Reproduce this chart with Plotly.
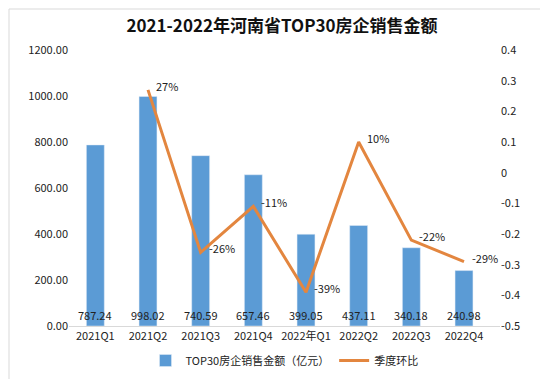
import plotly.graph_objects as go

categories = ["2021Q1", "2021Q2", "2021Q3", "2021Q4", "2022年Q1", "2022Q2", "2022Q3", "2022Q4"]
sales = [787.24, 998.02, 740.59, 657.46, 399.05, 437.11, 340.18, 240.98]
qoq = [None, 0.27, -0.26, -0.11, -0.39, 0.10, -0.22, -0.29]
qoq_labels = ["", "27%", "-26%", "-11%", "-39%", "10%", "-22%", "-29%"]
left_ticks = [0, 200, 400, 600, 800, 1000, 1200]
left_tick_text = ["0.00", "200.00", "400.00", "600.00", "800.00", "1000.00", "1200.00"]
right_ticks = [0.4, 0.3, 0.2, 0.1, 0, -0.1, -0.2, -0.3, -0.4, -0.5]
right_tick_text = ["0.4", "0.3", "0.2", "0.1", "0", "-0.1", "-0.2", "-0.3", "-0.4", "-0.5"]

FONT = "Noto Sans CJK SC"
fig = go.Figure()
fig.add_trace(go.Bar(x=categories, y=sales, name="TOP30房企销售金额（亿元）",
                     marker_color="#5B9BD5", width=0.34, yaxis="y"))
fig.add_trace(go.Scatter(x=categories, y=qoq, name="季度环比", mode="lines",
                         line=dict(color="#E3863F", width=3), yaxis="y2"))

annotations = []
for c, v in zip(categories, sales):
    annotations.append(dict(x=c, y=0, xref="x", yref="y", text=f"{v:.2f}", showarrow=False,
                            yanchor="bottom", yshift=1, font=dict(size=11, color="#222", family=FONT)))
for c, v, t in zip(categories, qoq, qoq_labels):
    if v is None:
        continue
    annotations.append(dict(x=c, y=v, xref="x", yref="y2", text=t, showarrow=False,
                            xanchor="left", xshift=6, yshift=4,
                            font=dict(size=11, color="#222", family=FONT)))

fig.update_layout(
    width=548, height=379,
    margin=dict(l=61, r=56, t=42, b=61),
    paper_bgcolor="white", plot_bgcolor="white",
    font=dict(family=FONT, size=11, color="#404040"),
    title=dict(text="<b>2021-2022年河南省TOP30房企销售金额</b>", x=0.5, xanchor="center",
               y=1 - 18 / 379, yanchor="middle", font=dict(size=17, color="#111", family=FONT)),
    xaxis=dict(showline=True, linecolor="#D9D9D9", linewidth=1, ticks="", showgrid=False,
               tickfont=dict(size=11, color="#222")),
    yaxis=dict(range=[0, 1200], tickvals=left_ticks, ticktext=left_tick_text, showgrid=False,
               zeroline=False, ticks="", tickfont=dict(size=11, color="#222")),
    yaxis2=dict(range=[-0.5, 0.4], tickvals=right_ticks, ticktext=right_tick_text, overlaying="y",
                side="right", showgrid=False, zeroline=False, ticks="",
                tickfont=dict(size=11, color="#222")),
    legend=dict(orientation="h", x=0.5, xanchor="center", y=-0.125, yanchor="middle",
                font=dict(size=11, color="#222")),
    annotations=annotations,
    bargap=0.66,
    showlegend=True,
)
fig.add_shape(type="rect", xref="paper", yref="paper",
              x0=-60 / 431, x1=(547 - 61) / 431, y0=-(378 - 318) / 276, y1=(318 - 1) / 276,
              line=dict(color="#D9D9D9", width=1), fillcolor="rgba(0,0,0,0)", layer="below")
fig.write_html("out.html")
